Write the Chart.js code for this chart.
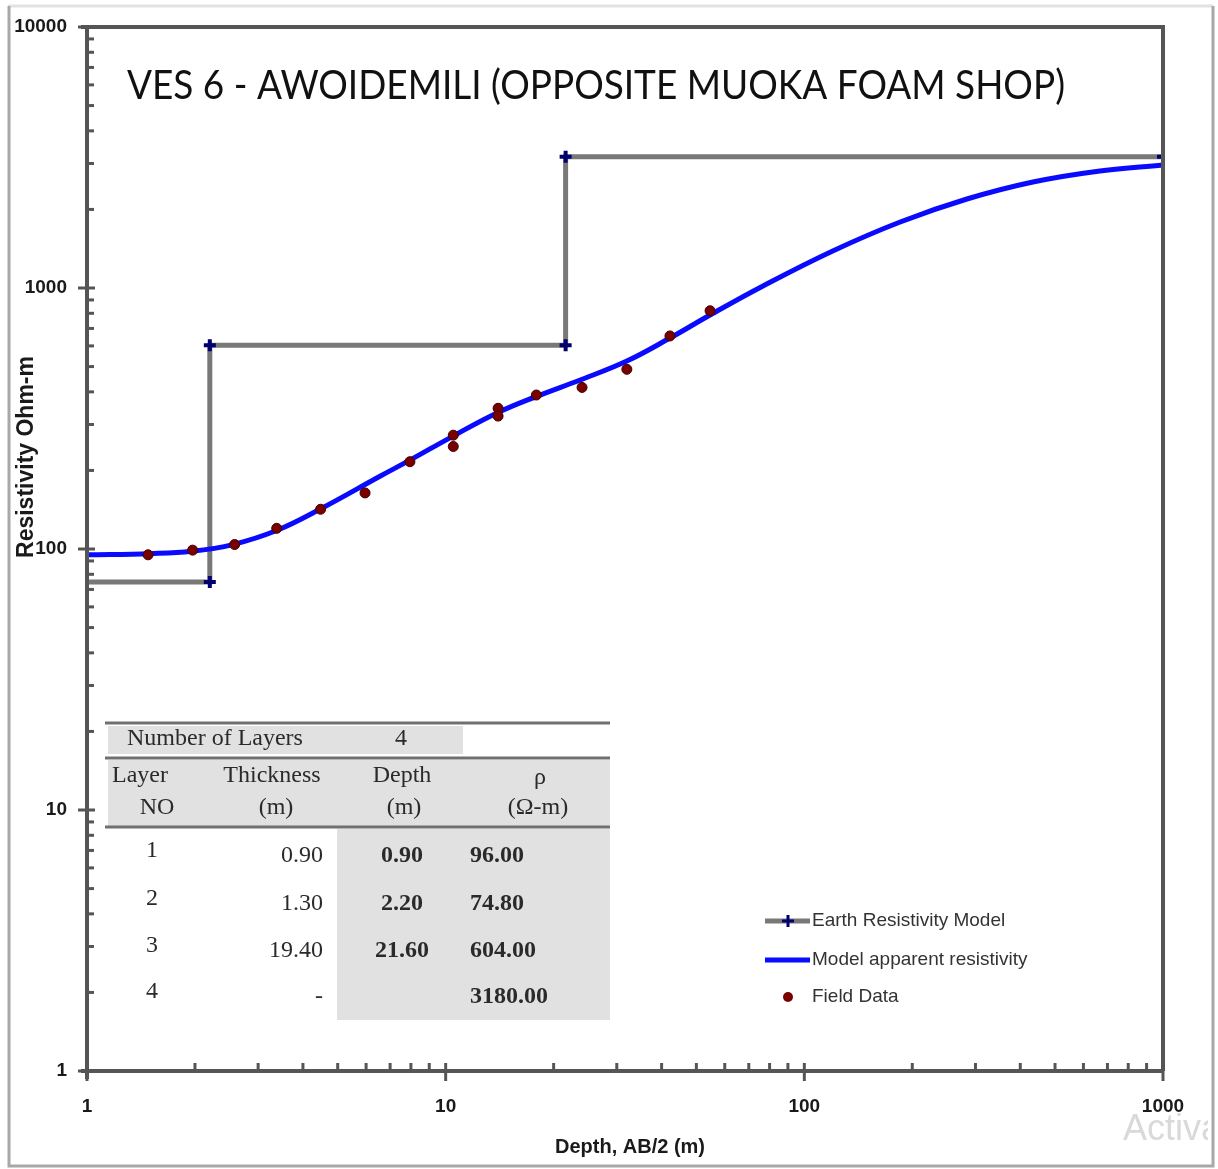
<!DOCTYPE html>
<html>
<head>
<meta charset="utf-8">
<script src="https://cdn.jsdelivr.net/npm/chart.js@4.4.1/dist/chart.umd.min.js"></script>
<style>
  html, body { margin: 0; padding: 0; background: #fff; }
  #wrap { width: 1218px; height: 1169px; }
</style>
</head>
<body>
<div id="wrap"><canvas id="vesChart" width="1218" height="1169"></canvas></div>
<script>
// sounding VES 6
const chartTitle = 'VES 6 - AWOIDEMILI (OPPOSITE MUOKA FOAM SHOP)';
const xTitle = 'Depth, AB/2 (m)';
const yTitle = 'Resistivity Ohm-m';
const xTicks = [1, 10, 100, 1000];
const yTicks = [1, 10, 100, 1000, 10000];

// layered earth model (also shown in the table)
const layerNo = ['1', '2', '3', '4'];
const layerThickness = ['0.90', '1.30', '19.40', '-'];
const layerDepth = [0.90, 2.20, 21.60];
const layerRho = [96.00, 74.80, 604.00, 3180.00];

// model apparent resistivity curve
const curveAB2 = [1, 1.5, 1.96, 2.55, 3.39, 4.46, 6.56, 7.95, 10.4, 13.9, 18.0, 23.7, 32.0, 42.2, 54.6, 76.7, 120, 185, 284, 434, 667, 1000];
const curveRho = [95, 96, 98, 104, 118, 142, 190, 219, 269, 332, 385, 444, 525, 643, 788, 1018, 1386, 1790, 2193, 2548, 2808, 2960];

// field data
const fieldAB2 = [1.48, 1.97, 2.58, 3.38, 4.48, 5.96, 7.95, 10.5, 10.5, 14.0, 14.0, 17.9, 24.0, 32.0, 42.2, 54.6];
const fieldRho = [95, 99, 104, 120, 142, 164, 216, 273, 247, 346, 323, 389, 416, 488, 655, 818];

const legendLabels = ['Earth Resistivity Model', 'Model apparent resistivity', 'Field Data'];

// step line of the model
function buildSteps() {
    const pts = [{x: layerDepth[0], y: layerRho[0]}];
    for (let i = 0; i < layerDepth.length; i++) {
        pts.push({x: layerDepth[i], y: layerRho[i]});
        pts.push({x: layerDepth[i], y: layerRho[i + 1]});
    }
    pts.push({x: xTicks[xTicks.length - 1], y: layerRho[layerRho.length - 1]});
    return pts;
}

const AXIS = '#555555';
const SANS = '"Liberation Sans", Arial, sans-serif';
const SERIF = '"Liberation Serif", "Times New Roman", serif';

function txt(ctx, s, x, y, font, color, align, maxW) {
    ctx.font = font;
    ctx.fillStyle = color;
    ctx.textAlign = align || 'left';
    ctx.textBaseline = 'middle';
    if (maxW) ctx.fillText(s, x, y, maxW);
    else ctx.fillText(s, x, y);
}

const decorPlugin = {
    id: 'decor',
    beforeDraw(chart) {
        const ctx = chart.ctx;
        ctx.save();
        ctx.fillStyle = '#fff';
        ctx.fillRect(0, 0, chart.width, chart.height);
        // outer picture frame
        ctx.strokeStyle = '#e2e2e2';
        ctx.lineWidth = 3;
        ctx.beginPath(); ctx.moveTo(8, 6); ctx.lineTo(1213, 6); ctx.stroke();
        ctx.strokeStyle = '#a8a8a8';
        ctx.beginPath(); ctx.moveTo(9, 6); ctx.lineTo(9, 1166); ctx.lineTo(1213, 1166); ctx.lineTo(1213, 6); ctx.stroke();
        ctx.restore();
    },
    afterDatasetsDraw(chart) {
        const ctx = chart.ctx;
        const a = chart.chartArea;
        const xs = chart.scales.x, ys = chart.scales.y;
        ctx.save();

        // plot border
        ctx.strokeStyle = AXIS;
        ctx.lineWidth = 4;
        ctx.beginPath();
        ctx.moveTo(a.left - 6, a.top); ctx.lineTo(a.right, a.top); ctx.lineTo(a.right, a.bottom);
        ctx.stroke();
        ctx.beginPath();
        ctx.moveTo(a.left, a.top); ctx.lineTo(a.left, a.bottom + 8);
        ctx.moveTo(a.left - 6, a.bottom); ctx.lineTo(a.right, a.bottom);
        ctx.stroke();

        // y ticks
        ctx.lineWidth = 3;
        yTicks.forEach((v, i) => {
            const py = ys.getPixelForValue(v);
            ctx.beginPath(); ctx.moveTo(a.left - 9, py); ctx.lineTo(a.left + 8, py); ctx.stroke();
            txt(ctx, String(v), a.left - 20, py, 'bold 19px ' + SANS, '#1a1a1a', 'right');
            if (i < yTicks.length - 1) {
                for (let m = 2; m <= 9; m++) {
                    const my = ys.getPixelForValue(v * m);
                    ctx.beginPath(); ctx.moveTo(a.left, my); ctx.lineTo(a.left + 7, my); ctx.stroke();
                }
            }
        });
        // x ticks
        xTicks.forEach((v, i) => {
            const px = xs.getPixelForValue(v);
            ctx.beginPath(); ctx.moveTo(px, a.bottom - 8); ctx.lineTo(px, a.bottom + 10); ctx.stroke();
            txt(ctx, String(v), px, a.bottom + 36, 'bold 19px ' + SANS, '#1a1a1a', 'center');
            if (i < xTicks.length - 1) {
                for (let m = 2; m <= 9; m++) {
                    const mx = xs.getPixelForValue(v * m);
                    ctx.beginPath(); ctx.moveTo(mx, a.bottom); ctx.lineTo(mx, a.bottom - 8); ctx.stroke();
                }
            }
        });

        // axis titles
        txt(ctx, xTitle, 630, 1147, 'bold 20px ' + SANS, '#1a1a1a', 'center');
        ctx.save();
        ctx.translate(27, 457);
        ctx.rotate(-Math.PI / 2);
        txt(ctx, yTitle, 0, 0, 'bold 23px ' + SANS, '#1a1a1a', 'center');
        ctx.restore();

        // chart title
        txt(ctx, chartTitle, 596, 86, '40px Lato, ' + SANS, '#111', 'center', 938);

        // legend
        const ds = chart.data.datasets;
        const legY = [921, 960, 997];
        ctx.lineWidth = ds[0].borderWidth;
        ctx.strokeStyle = ds[0].borderColor;
        ctx.beginPath(); ctx.moveTo(765, legY[0]); ctx.lineTo(810, legY[0]); ctx.stroke();
        ctx.strokeStyle = ds[0].pointBorderColor;
        ctx.lineWidth = 3;
        ctx.beginPath();
        ctx.moveTo(782, legY[0]); ctx.lineTo(794, legY[0]);
        ctx.moveTo(788, legY[0] - 6); ctx.lineTo(788, legY[0] + 6);
        ctx.stroke();
        ctx.lineWidth = ds[1].borderWidth;
        ctx.strokeStyle = ds[1].borderColor;
        ctx.beginPath(); ctx.moveTo(765, legY[1]); ctx.lineTo(810, legY[1]); ctx.stroke();
        ctx.fillStyle = ds[2].backgroundColor;
        ctx.beginPath(); ctx.arc(788, legY[2], 5, 0, Math.PI * 2); ctx.fill();
        legendLabels.forEach((l, i) => txt(ctx, l, 812, legY[i], '19px ' + SANS, '#333', 'left'));

        // layer table
        const grey = '#e1e1e1';
        ctx.fillStyle = grey;
        ctx.fillRect(108, 726, 355, 28);
        ctx.fillRect(108, 760, 502, 66);
        ctx.fillRect(337, 829, 273, 191);
        ctx.strokeStyle = '#707070';
        ctx.lineWidth = 3;
        [723, 758, 827].forEach(ly => {
            ctx.beginPath(); ctx.moveTo(105, ly); ctx.lineTo(610, ly); ctx.stroke();
        });
        const tf = '24px ' + SERIF, tb = 'bold 24px ' + SERIF, tc = '#2a2a2a';
        txt(ctx, 'Number of Layers', 127, 739, tf, tc, 'left');
        txt(ctx, String(layerRho.length), 401, 739, tf, tc, 'center');
        txt(ctx, 'Layer', 140, 776, tf, tc, 'center');
        txt(ctx, 'NO', 157, 808, tf, tc, 'center');
        txt(ctx, 'Thickness', 272, 776, tf, tc, 'center');
        txt(ctx, '(m)', 276, 808, tf, tc, 'center');
        txt(ctx, 'Depth', 402, 776, tf, tc, 'center');
        txt(ctx, '(m)', 404, 808, tf, tc, 'center');
        txt(ctx, 'ρ', 540, 778, tf, tc, 'center');
        txt(ctx, '(Ω-m)', 538, 808, tf, tc, 'center');
        const rowY = [856, 904, 951, 997];
        layerNo.forEach((n, i) => {
            txt(ctx, n, 152, rowY[i] - 5, tf, tc, 'center');
            txt(ctx, layerThickness[i], 323, rowY[i], tf, tc, 'right');
            if (i < layerDepth.length) txt(ctx, layerDepth[i].toFixed(2), 402, rowY[i], tb, tc, 'center');
            txt(ctx, layerRho[i].toFixed(2), 470, rowY[i], tb, tc, 'left');
        });

        // watermark remnant
        ctx.save();
        ctx.beginPath(); ctx.rect(1100, 1100, 108, 60); ctx.clip();
        txt(ctx, 'Activate', 1123, 1130, '36px ' + SANS, '#d9d9d9', 'left');
        ctx.restore();

        ctx.restore();
    }
};

new Chart(document.getElementById('vesChart'), {
    type: 'scatter',
    data: {
        datasets: [{
            type: 'line',
            label: legendLabels[0],
            data: buildSteps(),
            borderColor: '#787878',
            borderWidth: 5,
            pointStyle: 'cross',
            pointRadius: 6,
            pointBorderWidth: 4,
            pointBorderColor: '#00006e',
            pointBackgroundColor: '#00006e',
            tension: 0,
            fill: false,
            order: 3
        }, {
            type: 'line',
            label: legendLabels[1],
            data: curveAB2.map((x, i) => ({x: x, y: curveRho[i]})),
            borderColor: '#0a0aff',
            borderWidth: 5,
            pointRadius: 0,
            tension: 0.4,
            fill: false,
            order: 2
        }, {
            label: legendLabels[2],
            data: fieldAB2.map((x, i) => ({x: x, y: fieldRho[i]})),
            backgroundColor: '#7a0000',
            borderColor: '#3d0000',
            borderWidth: 1,
            pointRadius: 5,
            order: 1
        }]
    },
    options: {
        responsive: false,
        animation: false,
        devicePixelRatio: 1,
        layout: { padding: { left: 87, top: 27, right: 55, bottom: 98 } },
        plugins: {
            legend: { display: false },
            tooltip: { enabled: false }
        },
        scales: {
            x: { type: 'logarithmic', min: 1, max: 1000, display: false },
            y: { type: 'logarithmic', min: 1, max: 10000, display: false }
        }
    },
    plugins: [decorPlugin]
});
</script>
</body>
</html>
